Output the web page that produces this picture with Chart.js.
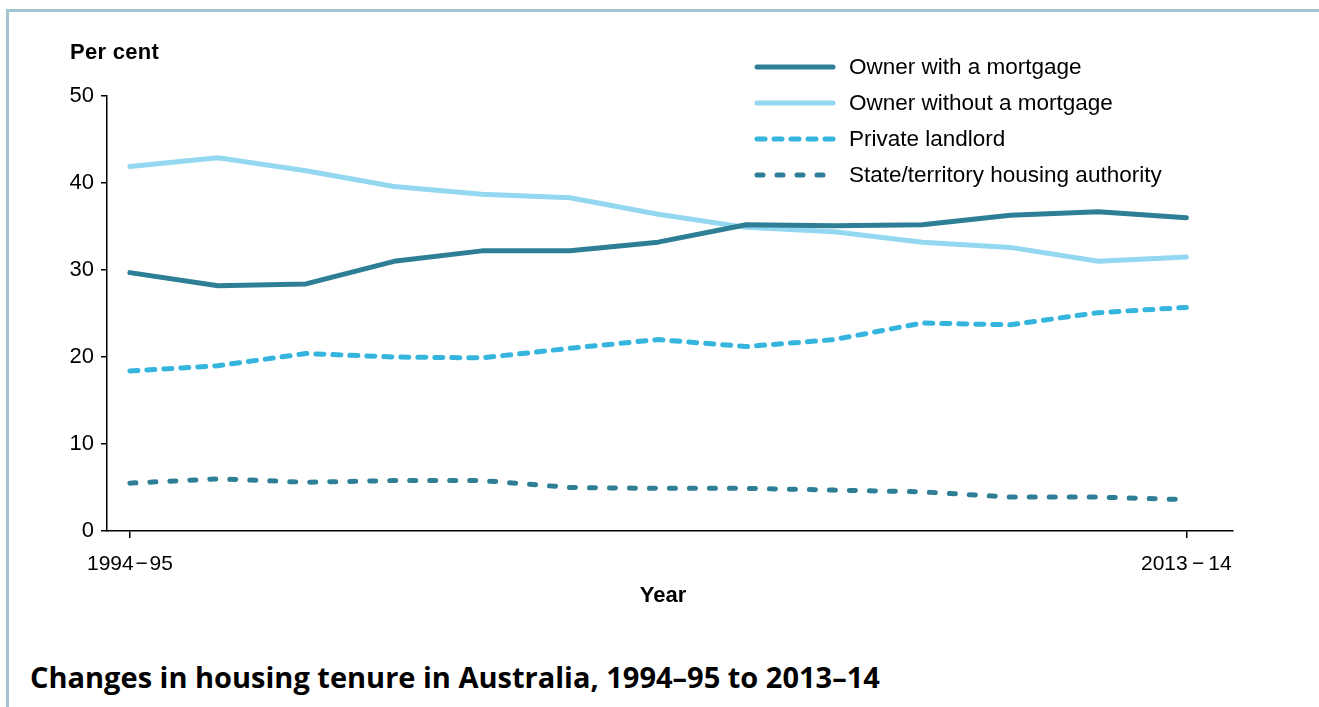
<!DOCTYPE html>
<html lang="en">
<head>
    <meta charset="UTF-8">
    <title>Housing tenure</title>
    <style>
        * { box-sizing: border-box; margin: 0; padding: 0; }
        html, body { width: 1319px; height: 707px; background: #fff; overflow: hidden; }
        .frame {
            position: absolute; left: 6px; top: 9px; width: 1313px; height: 698px;
            border-top: 3px solid #a3c5d1; border-left: 3px solid #a3c5d1;
        }
        .wrap { position: absolute; left: 0; top: 0; width: 1319px; height: 640px; }
        .lbl { position: absolute; font-family: 'Liberation Sans', Arial, sans-serif; color: #000; }
        #ytitle { left: 70px; top: 39px; font-size: 22px; font-weight: bold; letter-spacing: 0.3px; }
        #xtitle { left: 613px; width: 100px; text-align: center; top: 582px; font-size: 22px; font-weight: bold; }
        #title {
            position: absolute; left: 30px; top: 657px;
            font-family: 'Open Sans', sans-serif; font-weight: bold; font-size: 29px; color: #000;
        }
    </style>
</head>
<body>
    <div class="frame"></div>
    <div class="wrap"><canvas id="tenure" width="1319" height="640"></canvas></div>
    <div class="lbl" id="ytitle">Per cent</div>
    <div class="lbl" id="xtitle">Year</div>
    <div id="title">Changes in housing tenure in Australia, 1994–95 to 2013–14</div>

    <script src="https://cdn.jsdelivr.net/npm/chart.js@4.4.1/dist/chart.umd.min.js"></script>
    <script>
        // survey years, only first and last get a label
        const years = ['1994\u200a−\u200a95', '1995–96', '1996–97', '1997–98', '1999–00', '2000–01', '2002–03',
            '2003–04', '2005–06', '2007–08', '2009–10', '2011–12', '2013\u2009−\u200914'];
        const shownTicks = [0, 12];
        const yTicks = [0, 10, 20, 30, 40, 50];

        const withMortgage = [29.7, 28.2, 28.4, 31.0, 32.2, 32.2, 33.2, 35.2, 35.1, 35.2, 36.3, 36.7, 36.0];
        const withoutMortgage = [41.9, 42.9, 41.4, 39.6, 38.7, 38.3, 36.4, 34.9, 34.4, 33.2, 32.6, 31.0, 31.5];
        const privateLandlord = [18.4, 19.0, 20.4, 20.0, 19.9, 21.0, 22.0, 21.2, 22.0, 23.9, 23.7, 25.1, 25.7];
        const stateHousing = [5.5, 6.0, 5.6, 5.8, 5.8, 5.0, 4.9, 4.9, 4.7, 4.5, 3.9, 3.9, 3.6];

        const pts = arr => arr.map((v, i) => ({ x: i, y: v }));

        const series = [
            { label: 'Owner with a mortgage', data: withMortgage, color: '#2e7f96', dash: [] },
            { label: 'Owner without a mortgage', data: withoutMortgage, color: '#93d8f0', dash: [] },
            { label: 'Private landlord', data: privateLandlord, color: '#35b5de', dash: [8, 9] },
            { label: 'State/territory housing authority', data: stateHousing, color: '#2e7f96', dash: [6, 14] }
        ];

        const FONT = "'Liberation Sans', Arial, sans-serif";

        // vertical legend at the top right, drawn from the dataset styles
        const sideLegend = {
            id: 'sideLegend',
            afterDraw(chart) {
                const c = chart.ctx;
                c.save();
                chart.data.datasets.forEach((ds, i) => {
                    const y = 67 + i * 36;
                    c.beginPath();
                    c.strokeStyle = ds.borderColor;
                    c.lineWidth = 5;
                    c.lineCap = 'round';
                    c.setLineDash(ds.borderDash || []);
                    c.moveTo(757, y);
                    c.lineTo(833, y);
                    c.stroke();
                    c.setLineDash([]);
                    c.fillStyle = '#000';
                    c.font = '22.5px ' + FONT;
                    c.textBaseline = 'middle';
                    c.fillText(ds.label, 849, y + 1);
                });
                c.restore();
            }
        };

        new Chart(document.getElementById('tenure'), {
            type: 'line',
            data: {
                datasets: series.map(s => ({
                    label: s.label,
                    data: pts(s.data),
                    borderColor: s.color,
                    borderWidth: 5,
                    borderDash: s.dash,
                    borderCapStyle: 'round',
                    borderJoinStyle: 'round',
                    pointRadius: 0,
                    tension: 0,
                    fill: false
                }))
            },
            options: {
                responsive: false,
                animation: false,
                layout: { padding: { left: 0, top: 96, right: 86, bottom: 69 } },
                plugins: { legend: { display: false }, tooltip: { enabled: false } },
                scales: {
                    x: {
                        type: 'linear',
                        min: -0.26,
                        max: 12.53,
                        afterBuildTicks: s => { s.ticks = shownTicks.map(v => ({ value: v })); },
                        afterFit: s => { s.height = 40; },
                        ticks: {
                            callback: v => years[v],
                            color: '#000',
                            font: { family: FONT, size: 21 },
                            maxRotation: 0,
                            padding: 14
                        },
                        grid: { drawOnChartArea: false, drawTicks: true, tickLength: 7, color: '#000', lineWidth: 1.5 },
                        border: { display: true, color: '#000', width: 1.5 }
                    },
                    y: {
                        min: 0,
                        max: 50,
                        afterBuildTicks: s => { s.ticks = yTicks.map(v => ({ value: v })); },
                        afterFit: s => { s.width = 107; },
                        ticks: {
                            color: '#000',
                            font: { family: FONT, size: 22 },
                            padding: 7
                        },
                        grid: { drawOnChartArea: false, drawTicks: true, tickLength: 6, color: '#000', lineWidth: 1.5 },
                        border: { display: true, color: '#000', width: 1.5 }
                    }
                }
            },
            plugins: [sideLegend]
        });
    </script>
</body>
</html>
